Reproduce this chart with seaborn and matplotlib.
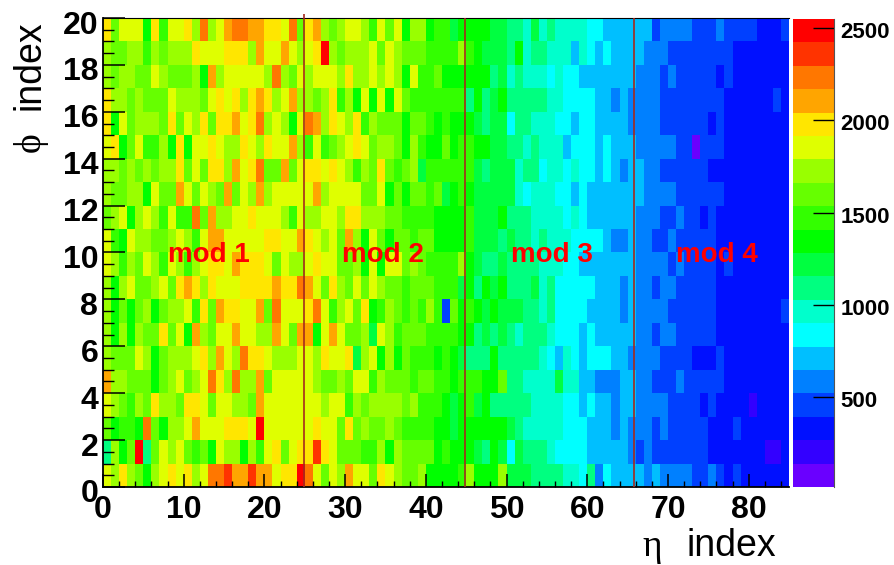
import numpy as np
import pandas as pd
import seaborn as sns
import matplotlib
matplotlib.use("Agg")
import matplotlib.pyplot as plt
from matplotlib.colors import ListedColormap
from matplotlib.ticker import MultipleLocator
from matplotlib.transforms import ScaledTranslation

plt.rcParams['font.family'] = ['Liberation Sans', 'DejaVu Sans']

# colour level of each cell (0 = lowest bin of the colour bar)
phi_19 = [15,12,14,14,14,10,15,11,14,14, 15,13,17,13,14,16,17,17,16,16, 15,15,14,17,12,15,16,13,12,13, 14,14,13,11,14,12,14,10,13,13, 10,11,11,9,10,10,10,10,9,9, 8,8,7,9,7,8,7,7,7,7, 6,6,5,5,5,5,5,5,3,4, 4,4,4,3,3,3,4,3,3,3, 3,2,2,2,3]
phi_18 = [13,12,12,13,13,11,13,12,13,13, 13,15,14,14,14,15,15,15,13,16, 14,14,16,14,13,14,15,19,13,12, 13,13,13,14,12,14,13,12,12,12, 11,11,11,11,13,11,10,9,9,9, 8,10,7,8,8,7,7,7,5,7, 6,5,6,5,5,5,5,4,4,4, 3,3,3,3,3,3,3,3,2,2, 2,2,2,2,2]
phi_17 = [13,12,13,13,12,12,14,13,12,12, 12,13,10,16,13,14,14,14,14,14, 13,17,13,12,14,13,14,14,14,13, 15,13,13,14,13,14,13,10,14,11, 11,12,10,10,10,10,10,10,8,9, 7,8,7,7,7,6,7,6,6,5, 5,5,5,5,5,5,4,4,4,3, 4,3,3,3,3,3,2,3,2,2, 2,2,2,2,2]
phi_16 = [15,13,13,12,13,12,12,12,14,13, 13,13,12,14,15,14,15,13,15,16, 15,13,14,16,13,13,12,13,15,11, 13,10,14,10,14,10,14,12,11,11, 11,11,11,11,11,8,10,8,9,10, 8,8,8,8,8,7,7,6,6,6, 6,5,5,4,5,4,4,4,4,3, 3,3,3,3,3,3,3,2,2,2, 2,2,2,3,2]
phi_15 = [15,10,14,12,13,13,13,12,15,12, 14,13,15,12,15,15,16,14,15,17, 13,14,13,10,14,17,16,13,15,14, 13,15,11,13,12,12,12,10,12,12, 11,10,11,10,10,10,9,8,9,9, 6,8,8,7,7,7,6,6,5,6, 6,5,5,5,5,4,4,4,4,3, 3,3,3,3,3,2,3,2,2,2, 2,2,2,2,2]
phi_14 = [14,15,10,12,14,11,11,13,10,15, 10,14,14,15,14,13,13,15,14,13, 15,14,14,16,13,11,14,11,12,13, 14,15,14,12,13,13,12,10,13,11, 10,10,12,10,11,11,10,10,9,9, 8,8,7,8,7,7,7,5,6,6, 6,5,6,5,5,5,4,4,4,4, 4,3,3,0,3,3,3,2,2,2, 2,2,2,2,2]
phi_13 = [13,13,12,13,12,13,12,13,13,15, 12,14,12,15,15,13,16,14,15,17, 12,12,16,12,14,15,15,14,15,14, 13,11,13,12,15,12,11,12,13,9, 11,11,11,11,11,11,9,8,9,9, 9,7,8,8,6,7,7,6,7,6, 6,5,6,5,4,5,5,4,4,3, 3,3,3,3,3,2,2,2,2,2, 2,2,2,2,2]
phi_12 = [13,12,12,13,13,10,14,12,12,16, 14,12,14,13,12,16,12,14,13,16, 13,14,14,14,14,14,16,13,14,14, 14,14,12,12,14,10,12,10,12,12, 11,12,9,10,11,10,9,9,9,9, 9,7,6,7,7,7,6,6,5,6, 5,5,5,5,5,5,5,4,4,4, 4,3,3,3,3,3,3,2,2,2, 2,2,2,2,2]
phi_11 = [12,13,14,10,13,14,13,11,14,11, 11,17,12,16,13,13,14,14,15,14, 14,14,13,11,14,13,13,14,14,13, 15,15,13,13,13,12,12,11,11,11, 11,10,10,10,10,11,9,9,9,10, 8,8,8,7,7,7,7,6,7,6, 5,5,5,5,5,5,4,4,4,3, 3,4,3,3,2,3,2,2,2,2, 2,2,2,2,2]
phi_10 = [14,11,10,14,13,13,12,12,13,14, 13,11,14,16,16,14,14,14,14,14, 15,15,14,14,16,15,14,13,14,12, 16,13,10,14,12,10,12,12,11,12, 12,10,10,10,10,11,9,9,9,8, 9,8,8,7,8,7,7,7,6,6, 6,6,5,4,4,5,4,4,3,3, 4,3,3,3,3,3,2,2,2,2, 2,2,2,2,2]
phi_09 = [14,13,11,13,12,14,13,11,14,13, 11,13,14,15,15,14,16,15,15,15, 14,12,14,13,13,14,15,14,14,12, 12,13,10,14,10,14,14,12,13,12, 11,11,11,11,13,10,9,8,8,9, 8,8,8,8,7,7,7,6,6,5, 5,5,5,5,5,5,4,4,4,4, 3,4,3,3,3,3,2,3,2,2, 2,2,2,2,2]
phi_08 = [13,10,13,14,12,12,13,14,12,15, 16,15,13,15,14,14,14,15,15,15, 15,16,15,15,17,16,14,12,15,13, 12,14,12,14,13,12,12,11,12,12, 12,11,11,11,9,10,8,10,9,10, 8,8,8,9,7,8,6,6,6,6, 6,5,5,5,4,5,4,4,3,4, 4,3,3,3,3,3,2,2,2,2, 2,2,2,2,2]
phi_07 = [13,10,12,10,12,13,10,12,13,13, 14,11,15,12,16,15,15,14,14,16, 12,17,14,14,14,15,17,14,11,13, 14,12,15,10,11,13,12,11,12,11, 13,11,3,12,10,11,10,9,10,9, 9,9,8,8,7,8,6,6,6,6, 5,5,5,5,4,5,4,4,4,4, 3,3,3,3,3,3,2,2,2,2, 2,2,2,2,3]
phi_06 = [13,10,13,10,13,12,12,15,12,14, 10,16,13,12,14,14,16,14,14,13, 13,16,14,12,16,16,10,14,16,14, 12,12,13,9,14,13,11,12,12,12, 11,11,11,11,10,10,8,9,8,9, 8,7,8,8,8,7,6,6,6,5, 6,5,5,5,5,5,4,4,3,4, 4,3,3,3,3,3,2,2,2,2, 2,2,2,2,2]
phi_05 = [13,12,12,12,14,13,10,12,13,13, 13,14,15,13,16,14,13,17,15,15, 14,13,13,13,14,14,13,15,14,14, 15,9,13,14,10,13,10,12,11,11, 11,10,11,10,9,8,8,8,10,8, 8,8,8,8,7,6,5,7,6,5, 6,6,6,5,5,4,4,4,4,3, 3,3,3,2,2,2,3,2,2,2, 2,2,2,2,2]
phi_04 = [16,13,13,12,12,12,10,12,13,14, 12,13,14,17,15,13,17,13,13,16, 12,14,14,14,14,14,13,12,12,13, 12,14,14,11,13,12,12,12,11,12, 12,11,11,10,11,11,11,10,10,12, 8,8,7,7,7,7,9,7,7,5, 5,4,4,4,5,5,4,4,3,3, 3,4,3,3,3,3,3,2,2,2, 2,2,2,2,2]
phi_03 = [14,13,12,11,13,12,15,13,13,12, 15,15,14,12,14,14,13,13,12,16, 14,14,14,14,14,14,14,13,14,14, 11,13,12,13,13,13,13,12,13,11, 11,11,10,9,10,11,9,10,8,8, 8,8,8,7,7,7,7,6,6,5, 6,5,5,4,5,5,4,4,4,4, 3,3,3,3,2,3,2,2,2,2, 1,2,2,2,2]
phi_02 = [12,10,11,11,10,17,12,10,13,13, 14,16,14,14,14,15,15,15,14,19, 14,14,14,14,14,14,15,14,14,12, 15,12,13,12,12,13,12,11,11,11, 11,10,10,9,10,10,10,10,10,10, 9,8,7,7,7,7,7,6,6,6, 5,5,5,4,5,4,4,4,3,4, 3,3,3,3,3,2,2,2,3,2, 2,2,2,2,2]
phi_01 = [8,13,10,12,19,8,12,14,13,14, 12,11,12,10,14,13,13,10,13,11, 14,15,12,14,15,15,18,15,14,12, 12,12,11,11,13,10,13,12,12,12, 12,10,11,10,10,10,9,8,10,9, 6,9,8,8,8,7,6,6,6,6, 5,5,5,5,5,4,3,4,3,3, 3,3,3,3,3,2,2,2,2,2, 2,2,1,1,2]
phi_00 = [14,13,15,13,12,10,13,14,15,14, 15,13,14,17,17,18,16,16,18,16, 16,14,15,15,19,17,14,12,14,13, 16,14,14,12,15,14,13,12,12,13, 10,10,10,10,11,13,10,10,10,13, 9,9,9,8,8,8,8,7,7,6, 8,4,6,5,5,5,5,4,5,4, 4,4,4,3,3,4,3,2,3,2, 2,2,2,2,2]

levels = [phi_00, phi_01, phi_02, phi_03, phi_04, phi_05, phi_06, phi_07, phi_08, phi_09,
          phi_10, phi_11, phi_12, phi_13, phi_14, phi_15, phi_16, phi_17, phi_18, phi_19]

level_colors = ['#6a00ff', '#3300ff', '#0010ff', '#0040ff', '#0080ff', '#00bfff', '#00ffff',
                '#00ffcc', '#00ff80', '#00ff40', '#00ff00', '#33ff00', '#66ff00', '#99ff00',
                '#dfff00', '#ffe600', '#ffa500', '#ff7700', '#ff3300', '#ff0000']

z_min = 12
z_max = 2550
mod_edges = [24.9, 44.9, 65.8]
mod_tops = [20.15, 20, 20]
mod_names = ['mod 1', 'mod 2', 'mod 3', 'mod 4']
mod_label_x = [8, 29.6, 50.5, 71]

W, H = 894, 565
step = (z_max - z_min) / len(level_colors)
counts = z_min + (np.array(levels) + 0.5) * step
df = pd.DataFrame(counts)

fig = plt.figure(figsize=(W / 100, H / 100), dpi=100)
ax = fig.add_axes([103 / W, 1 - 487 / H, 686 / W, 469 / H])
cax = fig.add_axes([793 / W, 1 - 487 / H, 41 / W, 468 / H])

sns.heatmap(df, ax=ax, cbar_ax=cax, cmap=ListedColormap(level_colors), vmin=z_min, vmax=z_max,
            xticklabels=False, yticklabels=False)
ax.invert_yaxis()

for s in ax.spines.values():
    s.set_visible(True)
    s.set_color('black')
ax.spines['left'].set_linewidth(1.3)
ax.spines['bottom'].set_linewidth(1.3)
ax.spines['top'].set_linewidth(0.8)
ax.spines['right'].set_visible(False)

ax.xaxis.set_major_locator(MultipleLocator(10))
ax.xaxis.set_minor_locator(MultipleLocator(2))
ax.yaxis.set_major_locator(MultipleLocator(2))
ax.yaxis.set_minor_locator(MultipleLocator(0.5))
ax.xaxis.set_major_formatter('{x:.0f}')
ax.yaxis.set_major_formatter('{x:.0f}')
ax.tick_params(axis='x', which='major', direction='in', length=9.5, width=1.1, labelsize=23, pad=6,
               labelbottom=True, bottom=True)
ax.tick_params(axis='x', which='minor', direction='in', length=4.5, width=1.0, bottom=True)
ax.tick_params(axis='y', which='major', direction='in', length=16, width=1.1, labelsize=23, pad=3.5,
               labelleft=True, left=True)
ax.tick_params(axis='y', which='minor', direction='in', length=8, width=1.0, left=True)
for t in ax.get_xticklabels():
    t.set_fontweight('bold')
    t.set_rotation(0)
for t in ax.get_yticklabels():
    t.set_fontweight('bold')
    t.set_rotation(0)
    t.set_transform(t.get_transform() + ScaledTranslation(0, -4 / 100, fig.dpi_scale_trans))

for x, top in zip(mod_edges, mod_tops):
    ax.vlines(x, 0, top, color='#a52a1e', lw=1.2, zorder=5, clip_on=False)

for x, name in zip(mod_label_x, mod_names):
    ax.text(x, 9.6, name, color='red', fontsize=20, fontweight='bold', ha='left', va='baseline')

fig.text(776 / W, 1 - 556.5 / H, 'index', fontsize=27, ha='right', va='baseline')
fig.text(642 / W, 1 - 556.5 / H, 'η', fontsize=27, family='Liberation Serif', ha='left', va='baseline')
fig.text(40 / W, 1 - 110 / H, 'index', fontsize=27, rotation=90, ha='left', va='baseline',
         rotation_mode='anchor')
fig.text(40 / W, 1 - 152 / H, 'ϕ', fontsize=27, family='Liberation Serif', rotation=90, ha='left',
         va='baseline', rotation_mode='anchor')

cax.yaxis.set_ticks([500, 1000, 1500, 2000, 2500])
cax.tick_params(axis='y', direction='in', length=15, width=1.0, labelsize=16, pad=4.5, right=True)
for t in cax.get_yticklabels():
    t.set_fontweight('bold')
    t.set_transform(t.get_transform() + ScaledTranslation(0, -2 / 100, fig.dpi_scale_trans))
for s in cax.spines.values():
    s.set_visible(False)
cax.spines['right'].set_visible(True)
cax.spines['right'].set_color('#555555')
cax.spines['right'].set_linewidth(0.8)

fig.savefig('out.png', dpi=100)
